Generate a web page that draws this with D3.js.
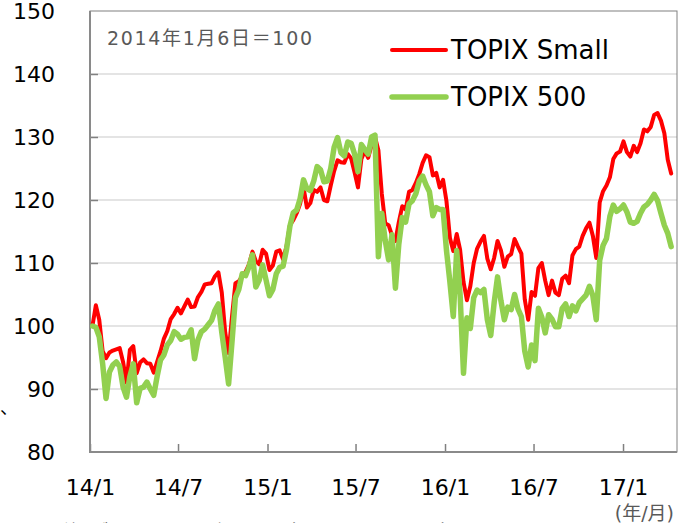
<!DOCTYPE html>
<html>
<head>
<meta charset="utf-8">
<script src="https://cdn.jsdelivr.net/npm/d3@7"></script>
<style>
  body { margin: 0; background: #fff; }
  text { font-family: Verdana, "DejaVu Sans", "Noto Sans CJK JP", sans-serif; }
</style>
</head>
<body>
<svg id="chart" width="679" height="523"></svg>
<script>
// weekly closes, 2014/1/6 = 100
let dates = [
  "14-01-06","14-01-13","14-01-20","14-01-27","14-02-03","14-02-10","14-02-17","14-02-24","14-03-03","14-03-10","14-03-17","14-03-24","14-03-31",
  "14-04-07","14-04-14","14-04-21","14-04-28","14-05-05","14-05-12","14-05-19","14-05-26","14-06-02","14-06-09","14-06-16","14-06-23","14-06-30",
  "14-07-07","14-07-14","14-07-21","14-07-28","14-08-04","14-08-11","14-08-18","14-08-25","14-09-01","14-09-08","14-09-15","14-09-22","14-09-29",
  "14-10-06","14-10-13","14-10-20","14-10-27","14-11-03","14-11-10","14-11-17","14-11-24","14-12-01","14-12-08","14-12-15","14-12-22","14-12-29",
  "15-01-05","15-01-12","15-01-19","15-01-26","15-02-02","15-02-09","15-02-16","15-02-23","15-03-02","15-03-09","15-03-16","15-03-23","15-03-30",
  "15-04-06","15-04-13","15-04-20","15-04-27","15-05-04","15-05-11","15-05-18","15-05-25","15-06-01","15-06-08","15-06-15","15-06-22","15-06-29",
  "15-07-06","15-07-13","15-07-20","15-07-27","15-08-03","15-08-10","15-08-17","15-08-24","15-08-31","15-09-07","15-09-14","15-09-21","15-09-28",
  "15-10-05","15-10-12","15-10-19","15-10-26","15-11-02","15-11-09","15-11-16","15-11-23","15-11-30","15-12-07","15-12-14","15-12-21","15-12-28",
  "16-01-04","16-01-11","16-01-18","16-01-25","16-02-01","16-02-08","16-02-15","16-02-22","16-02-29","16-03-07","16-03-14","16-03-21","16-03-28",
  "16-04-04","16-04-11","16-04-18","16-04-25","16-05-02","16-05-09","16-05-16","16-05-23","16-05-30","16-06-06","16-06-13","16-06-20","16-06-27",
  "16-07-04","16-07-11","16-07-18","16-07-25","16-08-01","16-08-08","16-08-15","16-08-22","16-08-29","16-09-05","16-09-12","16-09-19","16-09-26",
  "16-10-03","16-10-10","16-10-17","16-10-24","16-10-31","16-11-07","16-11-14","16-11-21","16-11-28","16-12-05","16-12-12","16-12-19","16-12-26",
  "17-01-02","17-01-09","17-01-16","17-01-23","17-01-30","17-02-06","17-02-13","17-02-20","17-02-27","17-03-06","17-03-13","17-03-20","17-03-27",
  "17-04-03","17-04-10"
];

let topixSmall = [
  100, 103.3, 101, 96, 94.9, 95.8, 96.1, 96.3, 96.5, 94.3, 91, 96.2, 96.8,
  92.5, 94.2, 94.7, 94.1, 94.0, 92.6, 94.3, 96.0, 98.0, 99.2, 101.1, 101.9, 102.9,
  102.0, 103.1, 104.2, 103.0, 103.1, 104.6, 105.4, 106.6, 106.7, 106.8, 107.9, 108.5, 105.3,
  99.0, 95.7, 101.5, 106.8, 107.1, 107.9, 108.6, 109.8, 111.8, 110.3, 109.8, 112.1, 111.5,
  108.9, 109.6, 111.8, 112.0, 110.6, 112.6, 116.0, 116.8, 117.9, 119.4, 122.0, 118.8, 119.5,
  121.6, 121.3, 122.0, 120.0, 119.8, 122.3, 124.6, 126.3, 126.0, 125.9, 127.3, 126.6, 124.4,
  122.0, 126.5, 127.8, 126.7, 128.7, 130.0, 127.9, 121.0, 116.3, 116.0, 114.4, 113.5, 116.5,
  119.0, 118.5, 121.3, 121.6, 122.7, 124.1, 125.9, 127.1, 126.8, 123.9, 124.3, 122.0, 123.2,
  119.8, 114.0, 111.9, 114.6, 112.1, 107.0, 104.1, 106.3, 110.0, 112.3, 113.4, 114.3, 110.7,
  109.0, 110.8, 113.5, 112.0, 109.4, 111.0, 111.4, 113.8, 112.6, 111.5, 104.2, 101.0, 105.4,
  104.8, 109.2, 110.0, 107.2, 104.9, 107.2, 105.3, 104.9, 107.5, 108.0, 106.8, 111.2, 112.2,
  112.6, 114.3, 115.5, 116.4, 114.3, 110.8, 119.6, 121.4, 122.3, 123.6, 126.5, 127.4, 127.7,
  129.3, 127.6, 126.9, 128.6, 127.6, 129.0, 131.2, 130.9, 131.6, 133.5, 133.8, 132.6, 130.6,
  126.4, 124.2
];

let topix500 = [
  100, 99.8, 98.3, 94, 88.5, 92.7, 93.8, 94.3, 93.6, 90.3, 88.7, 92.0, 94.0,
  87.8, 90.1, 90.3, 91.1, 90.0, 89.0, 92.0, 94.6, 95.4, 97.0, 97.7, 99.1, 98.7,
  97.9, 98.2, 98.3, 99.4, 94.8, 97.8, 99.1, 99.5, 100.2, 100.9, 102.5, 103.5, 99.0,
  95.0, 90.8, 97.5, 104.5, 105.8, 108.3, 108.0, 109.4, 111.3, 106.2, 107.3, 109.7, 107.3,
  104.8, 105.8, 108.3, 109.3, 109.5, 112.1, 115.8, 118.0, 118.4, 120.2, 123.2, 121.8, 121.5,
  123.0, 125.3, 124.8, 122.9, 123.0, 125.0, 128.4, 129.9, 127.5, 127.0, 129.2, 129.0, 127.3,
  124.5, 128.8, 128.0, 127.3, 130.0, 130.3, 111.0, 117.9, 113.6, 110.5, 114.5, 106.0, 113.0,
  117.2, 116.5, 119.4, 119.9, 121.0, 123.0, 123.8, 122.4, 121.3, 117.5, 118.8, 118.5, 118.5,
  112.0, 107.0, 101.5, 112.0, 105.0, 92.5, 101.3, 99.6, 104.5, 105.7, 105.3, 105.8, 101.0,
  98.5, 103.7, 107.8, 104.0, 101.0, 103.0, 102.6, 105.0, 102.7, 101.5, 96.0, 93.5, 97.0,
  94.5, 102.8, 101.4, 98.9, 101.8, 101.1, 99.9, 99.9, 102.8, 103.5, 101.5, 103.2, 102.4,
  103.7, 104.3, 104.9, 106.3, 104.8, 101.0, 110.4, 112.8, 113.9, 117.4, 119.2, 118.2, 118.6,
  119.2, 118.1, 116.5, 116.3, 116.6, 117.9, 118.9, 119.3, 120.0, 120.9, 119.9, 117.9, 116.0,
  114.7, 112.6
];

let seriesNames = ["TOPIX Small", "TOPIX 500"];
let seriesColors = ["#ff0000", "#92d050"];
let yTicks = [80, 90, 100, 110, 120, 130, 140, 150];
let xTickDates = ["14-01-01", "14-07-01", "15-01-01", "15-07-01", "16-01-01", "16-07-01", "17-01-01"];
let xTickLabels = ["14/1", "14/7", "15/1", "15/7", "16/1", "16/7", "17/1"];

let parse = d3.timeParse('%y-%m-%d');
let pLeft = 90, pRight = 677, pTop = 11, pBottom = 452;

var svg = d3.select('#chart');
svg.append('rect').attr('width', 679).attr('height', 523).attr('fill', '#fff');

var x = d3.scaleTime()
  .domain([parse('14-01-01'), parse('17-04-22')])
  .range([pLeft, pRight]);
var y = d3.scaleLinear()
  .domain([80, 150])
  .range([pBottom, pTop]);

// horizontal grid lines
svg.append('g')
  .selectAll('line')
  .data(yTicks.slice(1, -1))
  .enter()
  .append('line')
  .attr('x1', pLeft).attr('x2', pRight)
  .attr('y1', (d) => y(d)).attr('y2', (d) => y(d))
  .attr('stroke', '#c9c9c9')
  .attr('stroke-width', 1);

// frame
svg.append('rect')
  .attr('x', pLeft).attr('y', pTop)
  .attr('width', pRight - pLeft).attr('height', pBottom - pTop)
  .attr('fill', 'none')
  .attr('stroke', '#808080')
  .attr('stroke-width', 1);

// y labels
var yAxis = svg.append('g')
  .attr('transform', `translate(${pLeft},0)`)
  .call(d3.axisLeft(y).tickValues(yTicks).tickSize(0).tickPadding(35));
yAxis.select('.domain').remove();
yAxis.selectAll('text')
  .attr('font-size', 22)
  .attr('font-family', 'Verdana, "DejaVu Sans", sans-serif')
  .attr('fill', '#000');

// small inward ticks on the value axis
var yTickMarks = svg.append('g')
  .attr('transform', `translate(${pLeft},0)`)
  .call(d3.axisRight(y).tickValues(yTicks.slice(1, -1)).tickSize(8).tickFormat(''));
yTickMarks.select('.domain').remove();
yTickMarks.selectAll('line').attr('stroke', '#808080').attr('stroke-width', 1.5);

// x axis, ticks pointing up
var xAxis = svg.append('g')
  .attr('transform', `translate(0,${pBottom})`)
  .call(d3.axisBottom(x)
    .tickValues(xTickDates.map(parse))
    .tickSize(-8)
    .tickPadding(27)
    .tickFormat((d, i) => xTickLabels[i]));
xAxis.select('.domain').remove();
xAxis.selectAll('line').attr('stroke', '#808080').attr('stroke-width', 1.5);
xAxis.selectAll('text')
  .attr('font-size', 22)
  .attr('font-family', 'Verdana, "DejaVu Sans", sans-serif')
  .attr('fill', '#000');

// axis lines (left + bottom are heavier)
svg.append('line')
  .attr('x1', pLeft).attr('x2', pLeft).attr('y1', pTop).attr('y2', pBottom + 1)
  .attr('stroke', '#8a8a8a').attr('stroke-width', 2);
svg.append('line')
  .attr('x1', pLeft - 1).attr('x2', pRight).attr('y1', pBottom).attr('y2', pBottom)
  .attr('stroke', '#8a8a8a').attr('stroke-width', 2);

// clip for the lines
svg.append('defs').append('clipPath').attr('id', 'plot')
  .append('rect').attr('x', pLeft).attr('y', pTop)
  .attr('width', pRight - pLeft).attr('height', pBottom - pTop);

var line = d3.line()
  .x((d) => x(d[0]))
  .y((d) => y(d[1]));

let allSeries = [topixSmall, topix500];
let widths = [4, 5.5];
svg.append('g')
  .attr('clip-path', 'url(#plot)')
  .selectAll('path')
  .data(allSeries)
  .enter()
  .append('path')
  .attr('d', (vals) => line(vals.map((v, i) => [parse(dates[i]), v])))
  .attr('fill', 'none')
  .attr('stroke', (d, i) => seriesColors[i])
  .attr('stroke-width', (d, i) => widths[i])
  .attr('stroke-linejoin', 'round')
  .attr('stroke-linecap', 'round');

// legend
var legend = svg.append('g')
  .selectAll('.legend')
  .data(seriesNames)
  .enter()
  .append('g')
  .attr('transform', (d, i) => `translate(392,${50 + i * 47})`);
legend.append('line')
  .attr('x1', 0).attr('x2', 54)
  .attr('stroke', (d, i) => seriesColors[i])
  .attr('stroke-width', (d, i) => widths[i])
  .attr('stroke-linecap', 'round');
legend.append('text')
  .attr('x', 59).attr('y', 9)
  .attr('font-size', 26)
  .attr('fill', '#000')
  .text((d) => d);

// base date note
svg.append('text')
  .attr('x', 107).attr('y', 45)
  .attr('font-size', 19)
  .attr('textLength', 205)
  .attr('lengthAdjust', 'spacing')
  .attr('fill', '#595959')
  .text('2014年1月6日＝100');

// unit label
svg.append('text')
  .attr('x', 674).attr('y', 520)
  .attr('text-anchor', 'end')
  .attr('font-size', 19)
  .attr('fill', '#595959')
  .text('(年/月)');

// note under the chart, only its top edge is in frame
svg.append('text')
  .attr('x', 56).attr('y', 539)
  .attr('font-size', 19)
  .attr('fill', '#595959')
  .text('(注)ブルームバーグ、2014年1月6日～2017年4月14日');

svg.append('text')
  .attr('x', 0).attr('y', 414)
  .attr('font-size', 18)
  .attr('fill', '#000')
  .text('、');
</script>
</body>
</html>
